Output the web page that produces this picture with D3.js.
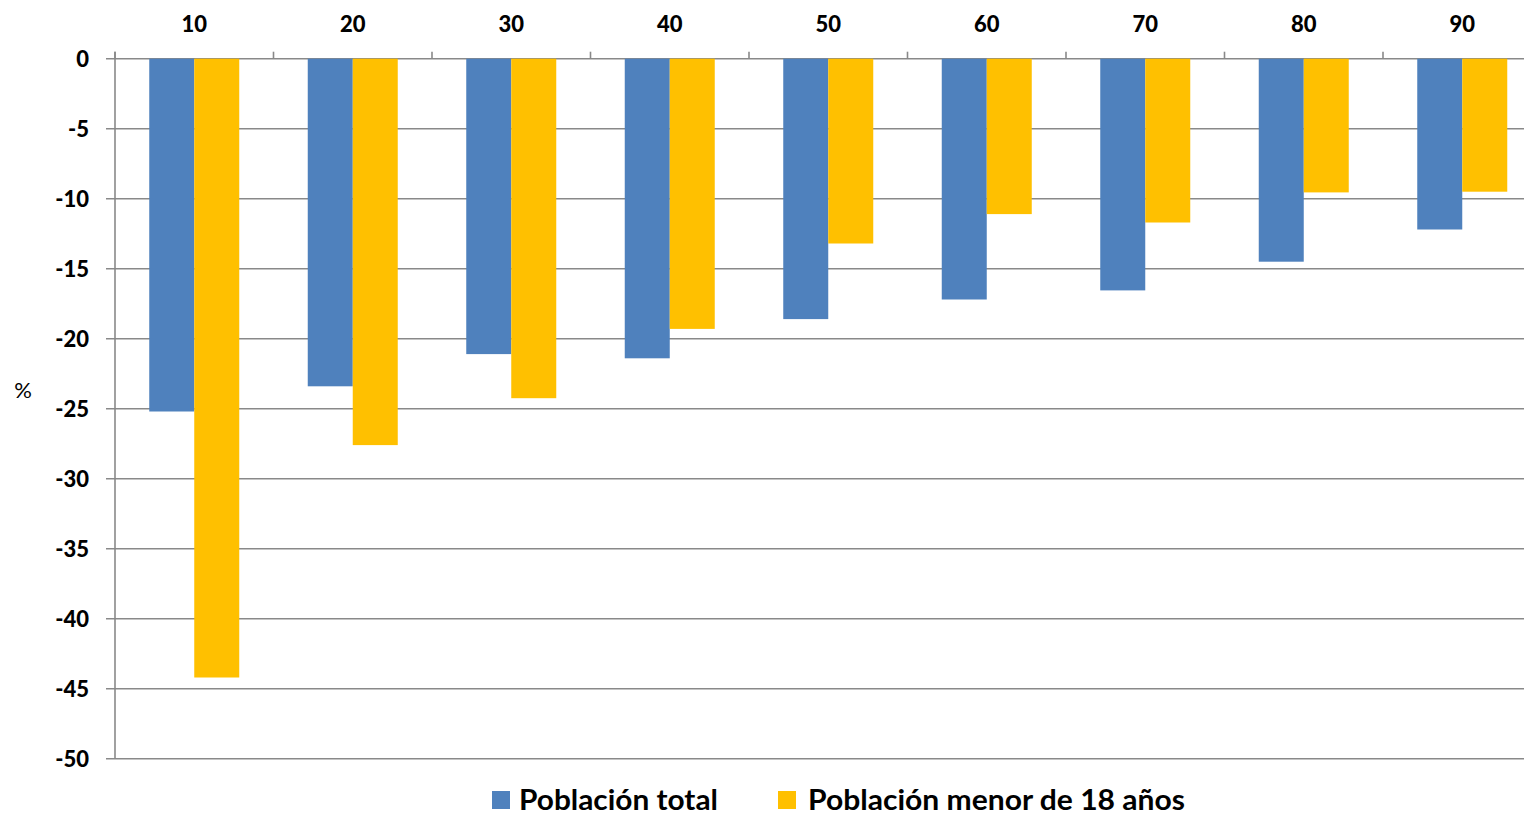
<!DOCTYPE html>
<html><head><meta charset="utf-8">
<script src="https://cdn.jsdelivr.net/npm/d3@7"></script>
<style>html,body{margin:0;padding:0;background:#fff;overflow:hidden}svg{display:block}</style>
</head><body>
<svg id="c" width="1524" height="815"></svg>
<script>
const categories = ["10","20","30","40","50","60","70","80","90"];
const seriesNames = ["Población total","Población menor de 18 años"];
const total = [-25.2,-23.4,-21.1,-21.4,-18.6,-17.2,-16.55,-14.5,-12.2];
const menor18 = [-44.2,-27.6,-24.25,-19.3,-13.2,-11.1,-11.7,-9.55,-9.5];
const yTicks = [0,-5,-10,-15,-20,-25,-30,-35,-40,-45,-50];
const colors = ["#4F81BD","#FFC000"];

(function(){
const svg = d3.select("#c");
const font = "Lato, 'Open Sans', sans-serif";
const pLeft = 115, pRight = 1541.5, pTop = 58.7, pBottom = 758.7;

const x0 = d3.scaleBand().domain(categories).range([pLeft, pRight]).padding(0);
const bw = x0.bandwidth();
const x1 = d3.scaleBand().domain(seriesNames).range([34.25, bw - 34.25]).padding(0);
const y = d3.scaleLinear().domain([0, -50]).range([pTop, pBottom]);

const gridColor = "#898989";

svg.append("g").selectAll("line").data(yTicks).join("line")
  .attr("x1", pLeft - 9).attr("x2", pRight)
  .attr("y1", d => y(d)).attr("y2", d => y(d))
  .attr("stroke", gridColor).attr("stroke-width", 1.6);

svg.append("line").attr("x1", pLeft).attr("x2", pLeft).attr("y1", pTop - 7).attr("y2", pBottom)
  .attr("stroke", gridColor).attr("stroke-width", 1.6);

const bounds = categories.map(c => x0(c)).concat([pRight]);
svg.append("g").selectAll("line").data(bounds).join("line")
  .attr("x1", d => d).attr("x2", d => d).attr("y1", pTop - 7).attr("y2", pTop)
  .attr("stroke", gridColor).attr("stroke-width", 1.6);

const data = categories.map((c, i) => ({c, vals: [total[i], menor18[i]]}));
const g = svg.append("g");
data.forEach(d => {
  d.vals.forEach((v, j) => {
    g.append("rect")
      .attr("x", x0(d.c) + x1(seriesNames[j]))
      .attr("width", x1.bandwidth())
      .attr("y", y(0))
      .attr("height", y(v) - y(0))
      .attr("fill", colors[j]);
  });
});

svg.append("g").selectAll("text").data(yTicks).join("text")
  .attr("x", 89).attr("y", d => y(d)).attr("dy", "0.36em")
  .attr("text-anchor", "end").attr("font-family", font).attr("font-weight", 900)
  .attr("font-size", 22).attr("fill", "#000").text(d => d);

svg.append("g").selectAll("text").data(categories).join("text")
  .attr("x", d => x0(d) + bw / 2).attr("y", 24).attr("dy", "0.36em")
  .attr("text-anchor", "middle").attr("font-family", font).attr("font-weight", 900)
  .attr("font-size", 22).attr("fill", "#000").text(d => d);

svg.append("text").attr("x", 23).attr("y", 390).attr("dy", "0.35em")
  .attr("text-anchor", "middle").attr("font-family", font).attr("font-size", 22)
  .attr("fill", "#000").text("%");

const legend = [
  {name: seriesNames[0], sx: 492, tx: 519, tw: 199},
  {name: seriesNames[1], sx: 778, tx: 808, tw: 377}
];
legend.forEach((l, i) => {
  svg.append("rect").attr("x", l.sx).attr("y", 791).attr("width", 18).attr("height", 18).attr("fill", colors[i]);
  svg.append("text").attr("x", l.tx).attr("y", 800).attr("dy", "0.35em")
    .attr("font-family", font).attr("font-weight", "bold").attr("font-size", 28)
    .attr("textLength", l.tw).attr("lengthAdjust", "spacingAndGlyphs")
    .attr("fill", "#000").text(l.name);
});
})();
</script>
</body></html>
